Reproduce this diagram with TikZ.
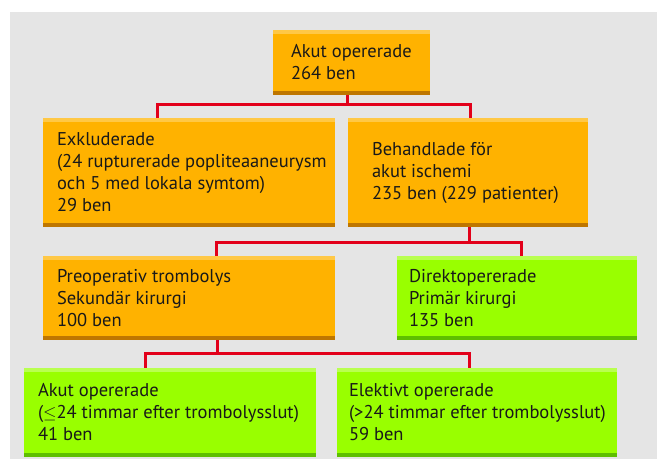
\documentclass[tikz,border=0pt]{standalone}
\usepackage{fontspec}
\setmainfont{PT Sans}
\usepackage{xcolor}
\usetikzlibrary{positioning}
\definecolor{bggray}{RGB}{229,229,229}
\definecolor{myorange}{RGB}{255,178,0}
\definecolor{myorangetop}{RGB}{255,200,70}
\definecolor{myorangedark}{RGB}{190,118,0}
\definecolor{mygreen}{RGB}{153,255,0}
\definecolor{mygreentop}{RGB}{185,255,80}
\definecolor{mygreendark}{RGB}{94,190,0}
\definecolor{myred}{RGB}{226,0,26}

\tikzset{
  box/.style={rectangle, inner sep=0pt, fill=#1,
    path picture={
      \fill[#1top] (path picture bounding box.north west) rectangle ([yshift=-4pt]path picture bounding box.north east);
      \fill[#1dark] (path picture bounding box.south west) rectangle ([yshift=4pt]path picture bounding box.south east);
    }},
  txt/.style={anchor=west, inner sep=0pt, align=left, text=black!90, font=\fontsize{18.5}{22}\selectfont},
  conn/.style={draw=myred, line width=3pt}
}

\begin{document}
\begin{tikzpicture}[x=1pt, y=-1pt]
\useasboundingbox (0,0) rectangle (657,459);
\fill[bggray] (10,12) rectangle (657,459);

% boxes
\node[box=myorange, minimum width=157pt, minimum height=65pt] (top) at (351.5,62.5) {};
\node[box=myorange, minimum width=292pt, minimum height=109pt] (exkl) at (189,172.5) {};
\node[box=myorange, minimum width=240pt, minimum height=109pt] (beh) at (468,172.5) {};
\node[box=myorange, minimum width=292pt, minimum height=84pt] (preop) at (189,298) {};
\node[box=mygreen, minimum width=240pt, minimum height=84pt] (direkt) at (517,298) {};
\node[box=mygreen, minimum width=292pt, minimum height=89pt] (akut) at (170,412.5) {};
\node[box=mygreen, minimum width=280pt, minimum height=89pt] (elek) at (477,412.5) {};

% texts
\node[txt] (top-t) at ([xshift=18pt]top.west) {Akut opererade\\264 ben};
\node[txt] (exkl-t) at ([xshift=14pt]exkl.west) {Exkluderade\\(24 rupturerade popliteaaneurysm\\och 5 med lokala symtom)\\29 ben};
\node[txt] (beh-t) at ([xshift=24pt]beh.west) {Behandlade för\\akut ischemi\\235 ben (229 patienter)};
\node[txt] (preop-t) at ([xshift=14pt]preop.west) {Preoperativ trombolys\\Sekundär kirurgi\\100 ben};
\node[txt] (direkt-t) at ([xshift=12pt]direkt.west) {Direktopererade\\Primär kirurgi\\135 ben};
\node[txt] (akut-t) at ([xshift=14pt]akut.west) {Akut opererade\\($\leq$24 timmar efter trombolysslut)\\41 ben};
\node[txt] (elek-t) at ([xshift=12pt]elek.west) {Elektivt opererade\\(>24 timmar efter trombolysslut)\\59 ben};

% connectors
\draw[conn] ([xshift=-4.5pt]top.south) -- ++(0,9) coordinate (j1);
\draw[conn] ([xshift=-32pt]exkl.north) |- (j1) -| ([xshift=2pt]beh.north);
\draw[conn] ([xshift=1pt]beh.south) -- ++(0,15) coordinate (j2);
\draw[conn] ([xshift=27pt]preop.north) |- (j2) -| ([xshift=4pt]direkt.north);
\draw[conn] ([xshift=28pt]preop.south) -- ++(0,13) coordinate (j3);
\draw[conn] ([xshift=-25pt]akut.north) |- (j3) -| ([xshift=-8pt]elek.north);

\end{tikzpicture}
\end{document}
